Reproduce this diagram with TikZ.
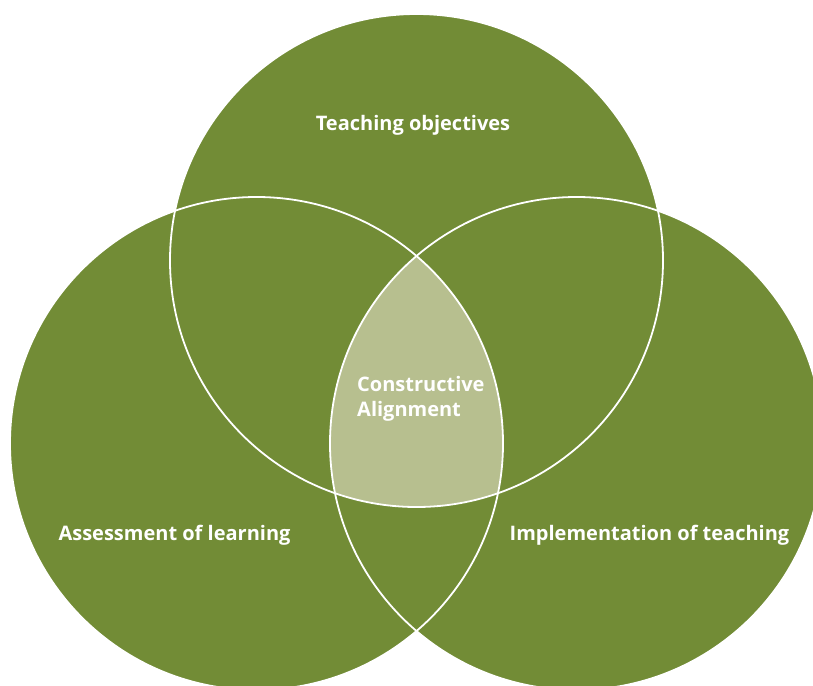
\documentclass[tikz,border=0pt]{standalone}
\usepackage{fontspec}
\setmainfont{Open Sans}
\definecolor{vgreen}{RGB}{114,140,54}
\definecolor{vlight}{RGB}{183,191,143}
\begin{document}
\begin{tikzpicture}[x=1pt,y=-1pt,
  lbl/.style={text=white,font=\fontsize{20}{25}\selectfont\bfseries,inner sep=0pt}]
\useasboundingbox (0,0) rectangle (813,685);
\clip (0,0) rectangle (813,685);
\def\R{246.5}
\coordinate (ct) at (416.5,260.5);
\coordinate (cl) at (256.5,443.5);
\coordinate (cr) at (576.5,443.5);
\fill[vgreen] (ct) circle[radius=\R];
\fill[vgreen] (cl) circle[radius=\R];
\fill[vgreen] (cr) circle[radius=\R];
\begin{scope}
  \clip (ct) circle[radius=\R];
  \clip (cl) circle[radius=\R];
  \fill[vlight] (cr) circle[radius=\R];
\end{scope}
\draw[white,line width=1.8pt] (ct) circle[radius=\R];
\draw[white,line width=1.8pt] (cl) circle[radius=\R];
\draw[white,line width=1.8pt] (cr) circle[radius=\R];
\node[lbl] (to) at (413,125.5) {Teaching objectives};
\node[lbl,align=left,anchor=west] (ca) at (357,399) {Constructive\\Alignment};
\node[lbl] (al) at (174.5,535.5) {Assessment of learning};
\node[lbl] (it) at (649.5,535.5) {Implementation of teaching};
\end{tikzpicture}
\end{document}
